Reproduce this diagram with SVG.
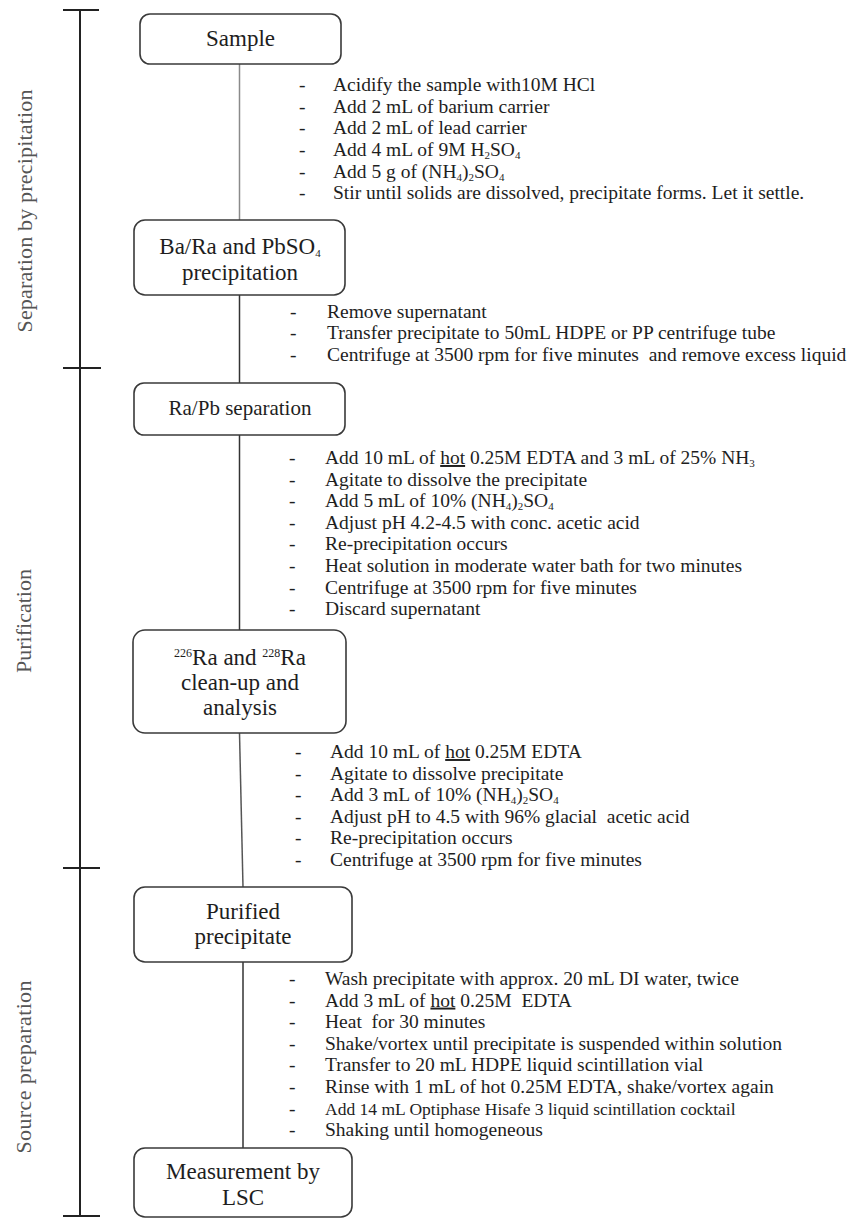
<svg xmlns="http://www.w3.org/2000/svg" width="850" height="1218" viewBox="0 0 850 1218">
<style>
.box{fill:#fff;stroke:#3a3a3a;stroke-width:1.6}
.lbl{font-family:"Liberation Serif","Times New Roman",serif;font-size:23px;fill:#1e1e1e;text-anchor:middle}
.t{font-family:"Liberation Serif","Times New Roman",serif;font-size:19.5px;fill:#1e1e1e}
.sm{font-size:17.5px}
.side{font-family:"Liberation Serif","Times New Roman",serif;font-size:22px;fill:#555;text-anchor:middle}
.bar{stroke:#222;stroke-width:2;fill:none}
.con{stroke:#333;stroke-width:1.5;fill:none}
.sub{font-size:11px}
.sup{font-size:12px}
</style>

<g id="phase-bar">
  <line class="bar" x1="80" y1="10" x2="80" y2="1217"/>
  <line class="bar" x1="63" y1="10" x2="99" y2="10"/>
  <line class="bar" x1="63" y1="368" x2="101" y2="368"/>
  <line class="bar" x1="63" y1="868" x2="100" y2="868"/>
  <line class="bar" x1="63" y1="1216" x2="100" y2="1216"/>
  <text class="side" transform="translate(32,211) rotate(-90)" textLength="243" lengthAdjust="spacing">Separation by precipitation</text>
  <text class="side" transform="translate(31,621) rotate(-90)">Purification</text>
  <text class="side" transform="translate(31,1067) rotate(-90)" textLength="173" lengthAdjust="spacing">Source preparation</text>
</g>

<g id="connectors">
  <line class="con" x1="239.5" y1="64" x2="239.5" y2="220" style="stroke:#8a8a8a"/>
  <line class="con" x1="239.5" y1="295" x2="239.5" y2="383"/>
  <line class="con" x1="239.5" y1="435" x2="239.5" y2="630"/>
  <line class="con" x1="239.5" y1="733" x2="243" y2="887" style="stroke:#555"/>
  <line class="con" x1="243" y1="962" x2="243" y2="1148"/>
</g>

<g id="node-sample">
  <rect class="box" x="140" y="14" width="201" height="50" rx="10"/>
  <text class="lbl" x="240.5" y="46">Sample</text>
</g>

<g id="node-bara">
  <rect class="box" x="134" y="220" width="211" height="75" rx="11"/>
  <text class="lbl" x="240" y="254">Ba/Ra and PbSO<tspan class="sub" dy="3">4</tspan></text>
  <text class="lbl" x="240" y="280">precipitation</text>
</g>

<g id="node-rapb">
  <rect class="box" x="134" y="383" width="211" height="52" rx="10"/>
  <text class="lbl" x="240" y="415" style="font-size:21px">Ra/Pb separation</text>
</g>

<g id="node-ra">
  <rect class="box" x="133" y="630" width="213" height="103" rx="12"/>
  <text class="lbl" x="240" y="665"><tspan class="sup" dy="-8">226</tspan><tspan dy="8">Ra and </tspan><tspan class="sup" dy="-8">228</tspan><tspan dy="8">Ra</tspan></text>
  <text class="lbl" x="240" y="690">clean-up and</text>
  <text class="lbl" x="240" y="715">analysis</text>
</g>

<g id="node-purified">
  <rect class="box" x="134" y="887" width="218" height="75" rx="11"/>
  <text class="lbl" x="243" y="919">Purified</text>
  <text class="lbl" x="243" y="944">precipitate</text>
</g>

<g id="node-lsc">
  <rect class="box" x="134" y="1148" width="218" height="69" rx="11"/>
  <text class="lbl" x="243" y="1179">Measurement by</text>
  <text class="lbl" x="243" y="1205">LSC</text>
</g>

<g id="steps-1">
  <text class="t" y="91"><tspan x="299">-</tspan><tspan x="333">Acidify the sample with10M HCl</tspan></text>
  <text class="t" y="113"><tspan x="299">-</tspan><tspan x="333">Add 2 mL of barium carrier</tspan></text>
  <text class="t" y="134"><tspan x="299">-</tspan><tspan x="333">Add 2 mL of lead carrier</tspan></text>
  <text class="t" y="156"><tspan x="299">-</tspan><tspan x="333">Add 4 mL of 9M H</tspan><tspan class="sub" dy="3">2</tspan><tspan dy="-3">SO</tspan><tspan class="sub" dy="3">4</tspan></text>
  <text class="t" y="178"><tspan x="299">-</tspan><tspan x="333">Add 5 g of (NH</tspan><tspan class="sub" dy="3">4</tspan><tspan dy="-3">)</tspan><tspan class="sub" dy="3">2</tspan><tspan dy="-3">SO</tspan><tspan class="sub" dy="3">4</tspan></text>
  <text class="t" y="199"><tspan x="299">-</tspan><tspan x="333">Stir until solids are dissolved, precipitate forms. Let it settle.</tspan></text>
</g>

<g id="steps-2">
  <text class="t" y="318"><tspan x="290">-</tspan><tspan x="327">Remove supernatant</tspan></text>
  <text class="t" y="339"><tspan x="290">-</tspan><tspan x="327">Transfer precipitate to 50mL HDPE or PP centrifuge tube</tspan></text>
  <text class="t" y="361" xml:space="preserve"><tspan x="290">-</tspan><tspan x="327">Centrifuge at 3500 rpm for five minutes  and remove excess liquid</tspan></text>
</g>

<g id="steps-3">
  <text class="t" y="464"><tspan x="289">-</tspan><tspan x="325">Add 10 mL of </tspan><tspan text-decoration="underline">hot</tspan><tspan> 0.25M EDTA and 3 mL of 25% NH</tspan><tspan class="sub" dy="3">3</tspan></text>
  <text class="t" y="485.6"><tspan x="289">-</tspan><tspan x="325">Agitate to dissolve the precipitate</tspan></text>
  <text class="t" y="507.2"><tspan x="289">-</tspan><tspan x="325">Add 5 mL of 10% (NH</tspan><tspan class="sub" dy="3">4</tspan><tspan dy="-3">)</tspan><tspan class="sub" dy="3">2</tspan><tspan dy="-3">SO</tspan><tspan class="sub" dy="3">4</tspan></text>
  <text class="t" y="528.8"><tspan x="289">-</tspan><tspan x="325">Adjust pH 4.2-4.5 with conc. acetic acid</tspan></text>
  <text class="t" y="550.4"><tspan x="289">-</tspan><tspan x="325">Re-precipitation occurs</tspan></text>
  <text class="t" y="572"><tspan x="289">-</tspan><tspan x="325">Heat solution in moderate water bath for two minutes</tspan></text>
  <text class="t" y="593.6"><tspan x="289">-</tspan><tspan x="325">Centrifuge at 3500 rpm for five minutes</tspan></text>
  <text class="t" y="615.2"><tspan x="289">-</tspan><tspan x="325">Discard supernatant</tspan></text>
</g>

<g id="steps-4">
  <text class="t" y="758"><tspan x="295">-</tspan><tspan x="330">Add 10 mL of </tspan><tspan text-decoration="underline">hot</tspan><tspan> 0.25M EDTA</tspan></text>
  <text class="t" y="779.5"><tspan x="295">-</tspan><tspan x="330">Agitate to dissolve precipitate</tspan></text>
  <text class="t" y="801"><tspan x="295">-</tspan><tspan x="330">Add 3 mL of 10% (NH</tspan><tspan class="sub" dy="3">4</tspan><tspan dy="-3">)</tspan><tspan class="sub" dy="3">2</tspan><tspan dy="-3">SO</tspan><tspan class="sub" dy="3">4</tspan></text>
  <text class="t" y="822.5" xml:space="preserve"><tspan x="295">-</tspan><tspan x="330">Adjust pH to 4.5 with 96% glacial  acetic acid</tspan></text>
  <text class="t" y="844"><tspan x="295">-</tspan><tspan x="330">Re-precipitation occurs</tspan></text>
  <text class="t" y="865.5"><tspan x="295">-</tspan><tspan x="330">Centrifuge at 3500 rpm for five minutes</tspan></text>
</g>

<g id="steps-5">
  <text class="t" y="985"><tspan x="289">-</tspan><tspan x="325">Wash precipitate with approx. 20 mL DI water, twice</tspan></text>
  <text class="t" y="1006.6" xml:space="preserve"><tspan x="289">-</tspan><tspan x="325">Add 3 mL of </tspan><tspan text-decoration="underline">hot</tspan><tspan> 0.25M  EDTA</tspan></text>
  <text class="t" y="1028.2" xml:space="preserve"><tspan x="289">-</tspan><tspan x="325">Heat  for 30 minutes</tspan></text>
  <text class="t" y="1049.8"><tspan x="289">-</tspan><tspan x="325">Shake/vortex until precipitate is suspended within solution</tspan></text>
  <text class="t" y="1071.4"><tspan x="289">-</tspan><tspan x="325">Transfer to 20 mL HDPE liquid scintillation vial</tspan></text>
  <text class="t" y="1093"><tspan x="289">-</tspan><tspan x="325">Rinse with 1 mL of hot 0.25M EDTA, shake/vortex again</tspan></text>
  <text class="t" y="1114.6"><tspan x="289">-</tspan><tspan x="325" class="sm">Add 14 mL Optiphase Hisafe 3 liquid scintillation cocktail</tspan></text>
  <text class="t" y="1136.2"><tspan x="289">-</tspan><tspan x="325">Shaking until homogeneous</tspan></text>
</g>
</svg>
